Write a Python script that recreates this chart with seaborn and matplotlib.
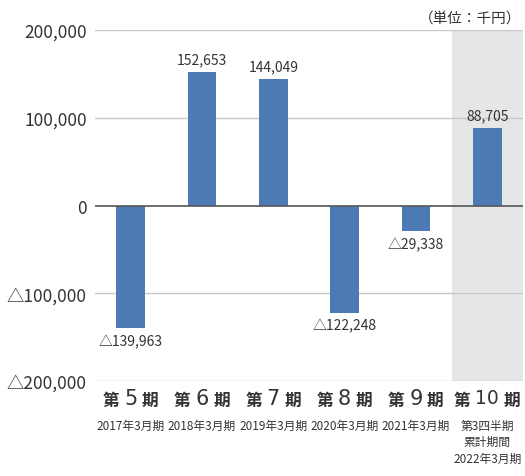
import matplotlib.pyplot as plt
import numpy as np
import pandas as pd
import seaborn as sns

# data
periods = ["第5期", "第6期", "第7期", "第8期", "第9期", "第10期"]
period_nums = ["5", "6", "7", "8", "9", "10"]
sublabels = ["2017年3月期", "2018年3月期", "2019年3月期", "2020年3月期", "2021年3月期",
             "第3四半期\n累計期間\n2022年3月期"]
profit = [-139963, 152653, 144049, -122248, -29338, 88705]
yticks = [-200000, -100000, 0, 100000, 200000]


def fmt(v):
    s = f"{abs(v):,}"
    return "△" + s if v < 0 else s


sns.set_style("white")
plt.rcParams["font.family"] = ["Noto Sans CJK JP", "DejaVu Sans"]

df = pd.DataFrame({"period": periods, "profit": profit})

fig = plt.figure(figsize=(5.25, 4.77), dpi=100)
ax = fig.add_axes([0.181, 0.199, 0.815, 0.736])

# shaded latest period
ax.axvspan(4.5, 5.5, color="#e5e6e8", zorder=0, lw=0)

sns.barplot(data=df, x="period", y="profit", color="#4d7ab5", width=0.4,
            saturation=1, linewidth=0, ax=ax, zorder=3)

ax.set_xlim(-0.5, 5.5)
ax.set_ylim(-200000, 200000)
ax.set_yticks(yticks)
ax.set_yticklabels([fmt(v) for v in yticks], fontsize=12.5, color="#333333")
for y in yticks:
    if y == 0:
        ax.axhline(0, color="#555555", lw=1.2, zorder=4)
    else:
        ax.axhline(y, color="#c8c8c8", lw=1, zorder=1)

sns.despine(left=True, bottom=True)
ax.tick_params(axis="y", length=0, pad=6)
ax.tick_params(axis="x", length=0)
ax.set_xticks(range(len(periods)))
ax.set_xticklabels([])
ax.set(xlabel="", ylabel="")

# value labels
for i, v in enumerate(profit):
    off = 4 if v > 0 else -4
    ax.annotate(fmt(v), (i, v), xytext=(0, off), textcoords="offset points",
                ha="center", va="bottom" if v > 0 else "top", fontsize=10,
                color="#333333")

# category labels
for i in range(len(periods)):
    wide = len(period_nums[i]) > 1
    side = 24 if wide else 20
    ax.annotate("第", (i, 0), xycoords=("data", "axes fraction"), xytext=(-side, -7),
                textcoords="offset points", ha="left", va="top", fontsize=12,
                fontweight="bold", color="#333333")
    ax.annotate(period_nums[i], (i, 0), xycoords=("data", "axes fraction"),
                xytext=(0, -5), textcoords="offset points", ha="center", va="top",
                fontsize=13.5 if wide else 15, color="#333333", family=["DejaVu Sans"])
    ax.annotate("期", (i, 0), xycoords=("data", "axes fraction"), xytext=(side, -7),
                textcoords="offset points", ha="right", va="top", fontsize=12,
                fontweight="bold", color="#333333")
    ax.annotate(sublabels[i], (i, 0), xycoords=("data", "axes fraction"),
                xytext=(0, -27), textcoords="offset points", ha="center", va="top",
                fontsize=8.5, color="#333333", linespacing=1.35)

fig.text(0.992, 0.975, "（単位：千円）", ha="right", va="top", fontsize=10.5, color="#333333")

plt.savefig("out.png", dpi=100)
